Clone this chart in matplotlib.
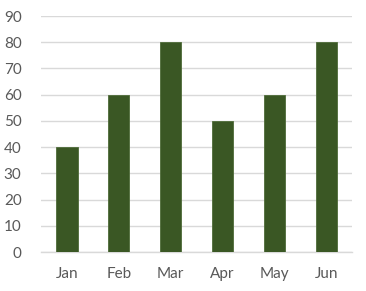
import matplotlib.pyplot as plt

# Data
months = ["Jan", "Feb", "Mar", "Apr", "May", "Jun"]
values = [40, 60, 80, 50, 60, 80]
y_ticks = list(range(0, 100, 10))

plt.rcParams["font.family"] = ["Lato", "DejaVu Sans"]

fig = plt.figure(figsize=(3.66, 2.91), dpi=100)
ax = fig.add_axes([0.112, 0.134, 0.85, 0.811])

x = range(len(months))
ax.bar(x, values, width=0.41, color="#3A5724", edgecolor="#4E6B38",
       linewidth=0.6, zorder=3)

ax.set_xlim(-0.5, len(months) - 0.5)
ax.set_ylim(0, 90)
ax.set_yticks(y_ticks)
ax.set_xticks(list(x))
ax.set_xticklabels(months)

ax.grid(axis="y", color="#D9D9D9", linewidth=1, zorder=0)
for side in ["top", "right", "left"]:
    ax.spines[side].set_visible(False)
ax.spines["bottom"].set_color("#D9D9D9")
ax.spines["bottom"].set_linewidth(1)

ax.tick_params(axis="both", length=0, labelsize=11, labelcolor="#595959")
ax.tick_params(axis="y", pad=14)
ax.tick_params(axis="x", pad=11)

fig.savefig("out.png", dpi=100)
